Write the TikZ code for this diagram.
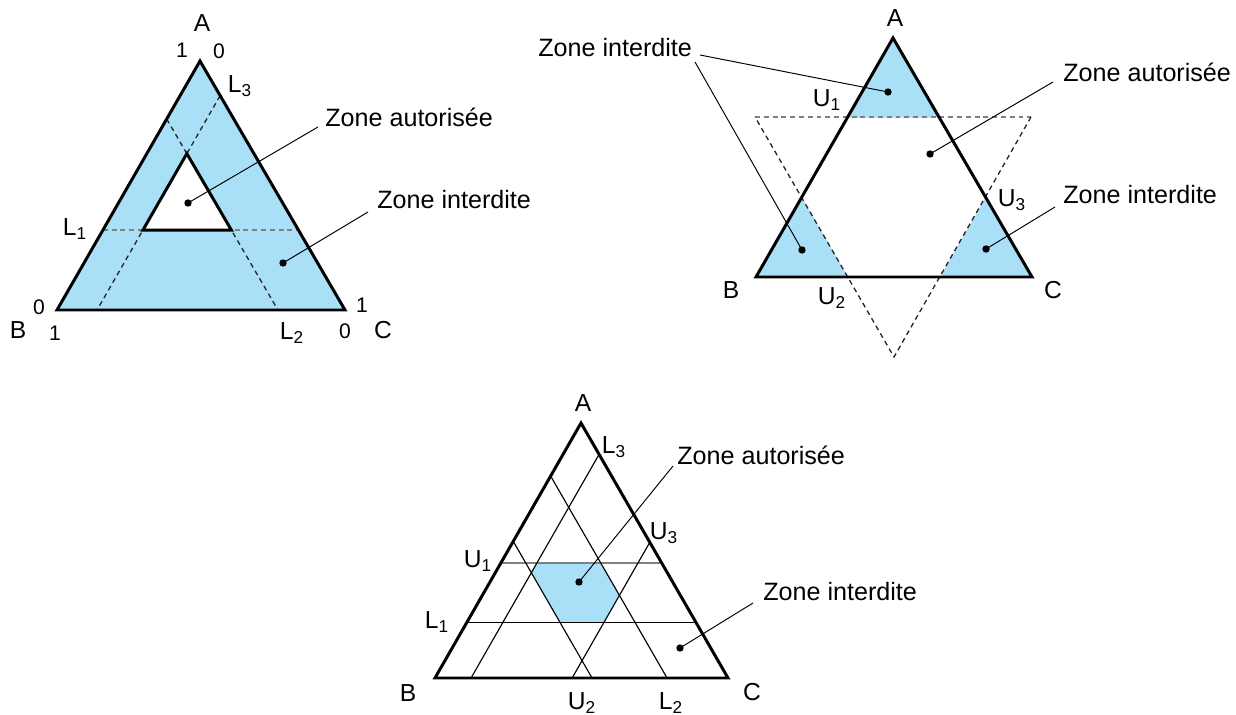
\documentclass[tikz,border=0pt]{standalone}
\usepackage{fontspec}
\setmainfont{Liberation Sans}
\usetikzlibrary{calc}
\definecolor{zoneblue}{RGB}{169,223,247}

% point of triangle #2 from its three shares a, b, c
\newcommand{\tpt}[5]{\coordinate (#1) at ($#3*(A#2)+#4*(B#2)+#5*(C#2)$);}

\begin{document}
\begin{tikzpicture}[x=0.02cm,y=-0.02cm,
  border/.style={line width=1.7pt},
  guide/.style={line width=0.75pt,dash pattern=on 2.8pt off 2.2pt,black!85},
  hguide/.style={guide,black!50},
  gridline/.style={line width=0.65pt},
  leader/.style={line width=0.55pt},
  zonelbl/.style={anchor=west,inner sep=0pt,font=\fontsize{14.3}{16}\selectfont},
  vtx/.style={inner sep=0pt,font=\fontsize{14}{16}\selectfont},
  tick/.style={inner sep=0pt,font=\fontsize{12}{14}\selectfont}]
\useasboundingbox (0,0) rectangle (1236,715);

% --- first diagram: lower bounds L1, L2, L3
\coordinate (A1) at (200,61);
\coordinate (B1) at (57,310);
\coordinate (C1) at (345,310);
\tpt{i1}{1}{0.628}{0.233}{0.139}
\tpt{i2}{1}{0.321}{0.540}{0.139}
\tpt{i3}{1}{0.321}{0.233}{0.446}
\tpt{l1a}{1}{0.321}{0.679}{0}
\tpt{l1b}{1}{0.321}{0}{0.679}
\tpt{l2a}{1}{0.767}{0.233}{0}
\tpt{l2b}{1}{0}{0.233}{0.767}
\tpt{l3a}{1}{0.861}{0}{0.139}
\tpt{l3b}{1}{0}{0.861}{0.139}
\fill[zoneblue,even odd rule] (A1)--(B1)--(C1)--cycle (i1)--(i2)--(i3)--cycle;
\draw[hguide] (l1a)--(l1b);
\draw[guide] (l2a)--(l2b);
\draw[guide] (l3a)--(l3b);
\draw[border] (A1)--(B1)--(C1)--cycle;
\draw[border] (i1)--(i2)--(i3)--cycle;

\node[vtx] (tA1) at (202,23) {A};
\node[vtx] (tB1) at (18,330) {B};
\node[vtx] (tC1) at (383,330) {C};
\node[tick] (nA1) at (182,50) {1};
\node[tick] (zA1) at (219,51) {0};
\node[tick] (zB1) at (39,307) {0};
\node[tick] (nB1) at (55,333) {1};
\node[tick] (nC1) at (362,305) {1};
\node[tick] (zC1) at (345,331) {0};
\node[vtx] (tL1) at (75,229) {L\textsubscript{1}};
\node[vtx] (tL2) at (292,333) {L\textsubscript{2}};
\node[vtx] (tL3) at (240,86) {L\textsubscript{3}};

\node[zonelbl] (za1) at (325,117) {Zone autorisée};
\node[zonelbl] (zi1) at (377,200) {Zone interdite};
\coordinate (za1e) at (318,127);
\coordinate (zi1e) at (368,212);
\coordinate (da1) at (188,203);
\coordinate (di1) at (283,263);
\draw[leader] (za1e)--(da1);
\draw[leader] (zi1e)--(di1);
\fill (da1) circle (2.1pt);
\fill (di1) circle (2.1pt);

% --- second diagram: upper bounds U1, U2, U3
\coordinate (A2) at (893,38);
\coordinate (B2) at (756,277);
\coordinate (C2) at (1032,277);
\tpt{u1a}{2}{0.6667}{0.3333}{0}
\tpt{u1b}{2}{0.6667}{0}{0.3333}
\tpt{u2a}{2}{0.3333}{0.6667}{0}
\tpt{u2b}{2}{0}{0.6667}{0.3333}
\tpt{u3a}{2}{0.3333}{0}{0.6667}
\tpt{u3b}{2}{0}{0.3333}{0.6667}
\coordinate (s1) at (755,117);
\coordinate (s2) at (1031,117);
\coordinate (s3) at (894,357);
\fill[zoneblue] (A2)--(u1a)--(u1b)--cycle;
\fill[zoneblue] (B2)--(u2a)--(u2b)--cycle;
\fill[zoneblue] (C2)--(u3a)--(u3b)--cycle;
\draw[hguide] (s1)--(s2);
\draw[guide] (s2)--(s3)--(s1);
\draw[border] (A2)--(B2)--(C2)--cycle;

\node[vtx] (tA2) at (895,18) {A};
\node[vtx] (tB2) at (731,290) {B};
\node[vtx] (tC2) at (1053,290) {C};
\node[vtx] (tU1) at (827,100) {U\textsubscript{1}};
\node[vtx] (tU2) at (832,298) {U\textsubscript{2}};
\node[vtx] (tU3) at (1012,200) {U\textsubscript{3}};

\node[zonelbl] (zi2) at (538,48) {Zone interdite};
\node[zonelbl] (za2) at (1063,72) {Zone autorisée};
\node[zonelbl] (zi3) at (1063,195) {Zone interdite};
\coordinate (zi2e) at (700,55);
\coordinate (zi2f) at (695,62);
\coordinate (za2e) at (1053,82);
\coordinate (zi3e) at (1055,207);
\coordinate (di2) at (888,92);
\coordinate (di3) at (802,250);
\coordinate (da2) at (930,154);
\coordinate (di4) at (986,249);
\draw[leader] (zi2e)--(di2);
\draw[leader] (zi2f)--(di3);
\draw[leader] (za2e)--(da2);
\draw[leader] (zi3e)--(di4);
\foreach \d in {di2,di3,da2,di4}
  \fill (\d) circle (2.1pt);

% --- third diagram: both bounds
\coordinate (A3) at (581,423);
\coordinate (B3) at (435,678);
\coordinate (C3) at (728,678);
\tpt{h1}{3}{0.451}{0.426}{0.123}
\tpt{h2}{3}{0.451}{0.208}{0.341}
\tpt{h3}{3}{0.324}{0.208}{0.468}
\tpt{h4}{3}{0.216}{0.316}{0.468}
\tpt{h5}{3}{0.216}{0.464}{0.320}
\tpt{h6}{3}{0.413}{0.464}{0.123}
\fill[zoneblue] (h1)--(h2)--(h3)--(h4)--(h5)--(h6)--cycle;
\tpt{p1a}{3}{0.451}{0.549}{0}
\tpt{p1b}{3}{0.451}{0}{0.549}
\tpt{q1a}{3}{0.216}{0.784}{0}
\tpt{q1b}{3}{0.216}{0}{0.784}
\tpt{q2a}{3}{0.792}{0.208}{0}
\tpt{q2b}{3}{0}{0.208}{0.792}
\tpt{p2a}{3}{0.536}{0.464}{0}
\tpt{p2b}{3}{0}{0.464}{0.536}
\tpt{q3a}{3}{0.877}{0}{0.123}
\tpt{q3b}{3}{0}{0.877}{0.123}
\tpt{p3a}{3}{0.532}{0}{0.468}
\tpt{p3b}{3}{0}{0.532}{0.468}
\draw[gridline,black!50] (p1a)--(p1b);
\draw[gridline] (q1a)--(q1b);
\draw[gridline] (q2a)--(q2b);
\draw[gridline] (p2a)--(p2b);
\draw[gridline] (q3a)--(q3b);
\draw[gridline] (p3a)--(p3b);
\draw[border] (A3)--(B3)--(C3)--cycle;

\node[vtx] (tA3) at (583,403) {A};
\node[vtx] (tB3) at (408,693) {B};
\node[vtx] (tC3) at (752,692) {C};
\node[vtx] (sL3) at (614,447) {L\textsubscript{3}};
\node[vtx] (sU3) at (664,533) {U\textsubscript{3}};
\node[vtx] (sU1) at (478,561) {U\textsubscript{1}};
\node[vtx] (sL1) at (437,622) {L\textsubscript{1}};
\node[vtx] (sU2) at (582,703) {U\textsubscript{2}};
\node[vtx] (sL2) at (671,703) {L\textsubscript{2}};

\node[zonelbl] (za3) at (677,455) {Zone autorisée};
\node[zonelbl] (zi4) at (763,592) {Zone interdite};
\coordinate (za3e) at (673,466);
\coordinate (zi4e) at (753,603);
\coordinate (da3) at (579,582);
\coordinate (di5) at (680,648);
\draw[leader] (za3e)--(da3);
\draw[leader] (zi4e)--(di5);
\fill (da3) circle (2.1pt);
\fill (di5) circle (2.1pt);
\end{tikzpicture}
\end{document}
